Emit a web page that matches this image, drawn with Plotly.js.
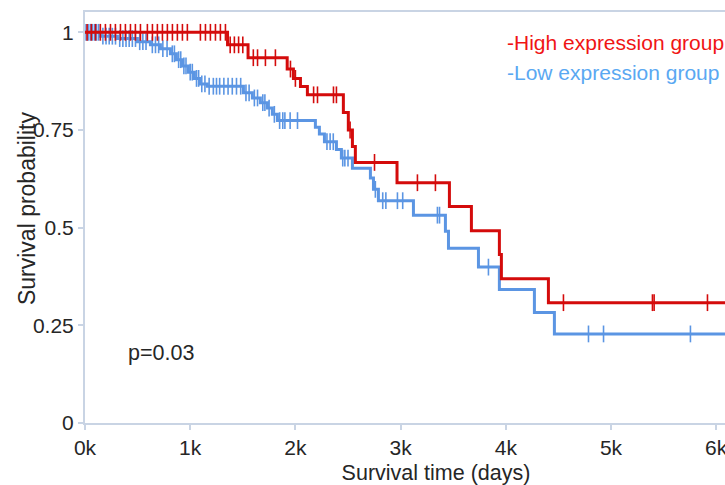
<!DOCTYPE html>
<html>
<head>
<meta charset="utf-8">
<script src="https://cdn.plot.ly/plotly-3.0.1.min.js"></script>
<style>
  html, body { margin: 0; padding: 0; overflow: hidden; background: #fff; }
  #km { width: 787px; height: 485px; }
</style>
</head>
<body>
<div id="km"></div>
<script>
// Kaplan-Meier estimates: step times (days) and survival after each step
const highTimes = [0, 1355, 1550, 1922, 1981, 2048, 2114, 2456, 2503, 2542, 2570, 2966, 3464, 3673, 3939, 3958, 4405, 6650];
const highSurv  = [1, 0.968, 0.935, 0.906, 0.882, 0.861, 0.840, 0.795, 0.750, 0.708, 0.667, 0.615, 0.554, 0.492, 0.431, 0.369, 0.308, 0.308];

const lowTimes = [0, 146, 308, 498, 622, 717, 812, 869, 926, 983, 1040, 1097, 1163, 1506, 1591, 1667, 1734, 1781, 1829,
                  2190, 2228, 2276, 2390, 2437, 2542, 2713, 2742, 2789, 3122, 3426, 3455, 3740, 3939, 4272, 4462, 6650];
const lowSurv  = [1, 0.990, 0.984, 0.976, 0.968, 0.958, 0.945, 0.930, 0.914, 0.898, 0.882, 0.868, 0.862, 0.845, 0.832, 0.820, 0.806, 0.790, 0.774,
                  0.757, 0.740, 0.720, 0.700, 0.678, 0.652, 0.627, 0.598, 0.569, 0.532, 0.491, 0.447, 0.399, 0.342, 0.283, 0.228, 0.228];

// Censored observations (days)
const highCensorTimes = [20, 60, 100, 146, 194, 242, 289, 337, 384, 432, 479, 527, 593, 641, 688, 736, 783, 831, 878, 926, 973,
                         1097, 1145, 1192, 1240, 1287, 1335, 1380, 1420, 1460, 1500, 1600, 1640, 1715, 1810, 1953, 2000,
                         2173, 2210, 2362, 2390, 2520, 2752, 3160, 3331, 4548, 5394, 5410, 5917];
const lowCensorTimes = [10, 30, 50, 70, 90, 110, 130, 170, 200, 230, 260, 290, 330, 360, 390, 420, 450, 480, 520, 550, 580,
                        640, 670, 700, 740, 780, 830, 850, 890, 910, 940, 960, 1000, 1020, 1060, 1080, 1110, 1140,
                        1180, 1220, 1250, 1280, 1320, 1360, 1400, 1440, 1480, 1530, 1560, 1610, 1640, 1690, 1710, 1750, 1800,
                        1850, 1880, 1900, 1950, 2020, 2300, 2330, 2360, 2450, 2470, 2500, 2760, 2830, 2860, 2970, 3020,
                        3350, 3370, 3835, 4786, 4929, 5755];

const xTickVals = [0, 1000, 2000, 3000, 4000, 5000, 6000];
const xTickText = ['0k', '1k', '2k', '3k', '4k', '5k', '6k'];
const yTickVals = [0, 0.25, 0.5, 0.75, 1];
const yTickText = ['0', '0.25', '0.5', '0.75', '1'];

const highLine = '#d40b0b';
const lowLine = '#5b95e3';

// survival value at time t for a step function
function survAt(times, surv, t) {
  let s = surv[0];
  for (let i = 0; i < times.length; i++) {
    if (times[i] <= t) s = surv[i]; else break;
  }
  return s;
}

function censorMarker(color) {
  return { symbol: 'line-ns-open', size: 12, color: color, line: { color: color, width: 1.6 } };
}

const traces = [
  { x: lowTimes, y: lowSurv, type: 'scatter', mode: 'lines', line: { shape: 'hv', color: lowLine, width: 3 }, hoverinfo: 'skip' },
  { x: lowCensorTimes, y: lowCensorTimes.map(t => survAt(lowTimes, lowSurv, t)), type: 'scatter', mode: 'markers',
    marker: censorMarker(lowLine), hoverinfo: 'skip' },
  { x: highTimes, y: highSurv, type: 'scatter', mode: 'lines', line: { shape: 'hv', color: highLine, width: 3 }, hoverinfo: 'skip' },
  { x: highCensorTimes, y: highCensorTimes.map(t => survAt(highTimes, highSurv, t)), type: 'scatter', mode: 'markers',
    marker: censorMarker(highLine), hoverinfo: 'skip' }
];

const axisColor = '#c9d4e4';
const font = 'Liberation Sans, Arial, sans-serif';
const textColor = '#262626';

const layout = {
  width: 787, height: 485,
  margin: { l: 85, r: 0, t: 12, b: 62 },
  paper_bgcolor: '#fff', plot_bgcolor: '#fff',
  showlegend: false,
  font: { family: font, color: textColor, size: 21 },
  xaxis: {
    range: [0, 6673], tickvals: xTickVals, ticktext: xTickText,
    showgrid: false, zeroline: false, showline: true, mirror: true,
    linecolor: axisColor, linewidth: 2, ticks: 'outside', ticklen: 5, tickcolor: axisColor, tickwidth: 2,
    tickfont: { size: 21, color: textColor },
    title: { text: 'Survival time (days)', font: { size: 21.5, color: textColor }, standoff: 7 }
  },
  yaxis: {
    range: [0, 1.052], tickvals: yTickVals, ticktext: yTickText,
    showgrid: false, zeroline: false, showline: true, mirror: true,
    linecolor: axisColor, linewidth: 2, ticks: 'outside', ticklen: 5, tickcolor: axisColor, tickwidth: 2,
    tickfont: { size: 21, color: textColor }
  },
  annotations: [
    { text: 'Survival probability', xref: 'paper', yref: 'paper', x: -0.0826, y: 0.523, xanchor: 'center', yanchor: 'middle',
      textangle: -90, showarrow: false, font: { size: 23, color: textColor } },
    { text: 'p=0.03', xref: 'paper', yref: 'paper', x: 0.0585, y: 0.170, xanchor: 'left', yanchor: 'middle',
      showarrow: false, font: { size: 21.5, color: textColor } },
    { text: '-High expression group', xref: 'paper', yref: 'paper', x: 0.599, y: 0.927, xanchor: 'left', yanchor: 'middle',
      showarrow: false, font: { size: 21, color: '#f01515' } },
    { text: '-Low expression group', xref: 'paper', yref: 'paper', x: 0.599, y: 0.854, xanchor: 'left', yanchor: 'middle',
      showarrow: false, font: { size: 21, color: '#5aa8f2' } }
  ]
};

Plotly.newPlot('km', traces, layout, { staticPlot: true, displayModeBar: false });
</script>
</body>
</html>
